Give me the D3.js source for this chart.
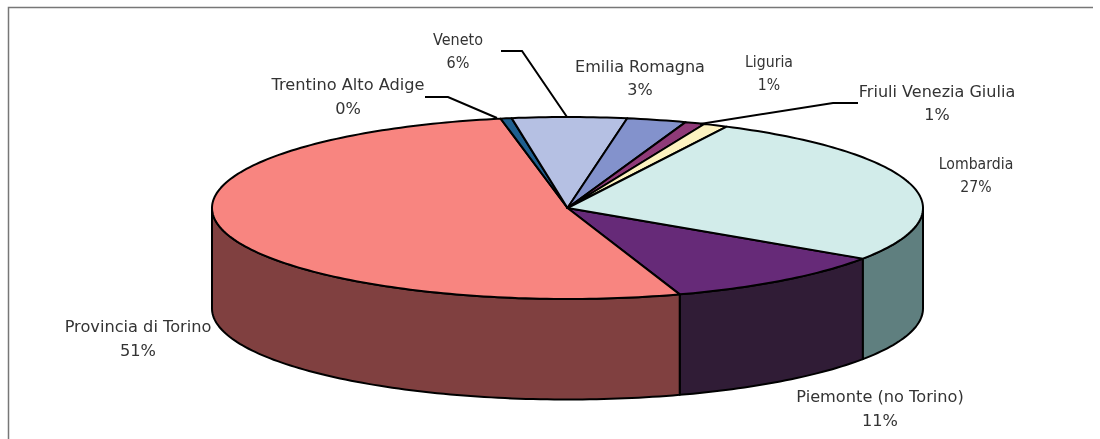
<!DOCTYPE html>
<html>
<head>
<meta charset="utf-8">
<script src="https://cdn.jsdelivr.net/npm/d3@7"></script>
<style>
html, body { margin: 0; padding: 0; background: #fff; overflow: hidden; }
svg { filter: blur(0.35px); }
text { font-family: "DejaVu Sans", Verdana, sans-serif; font-size: 16.2px; fill: #333; }
</style>
</head>
<body>
<script>
// slices, clockwise starting from the Lombardia / Piemonte edge
var categories = ['Piemonte (no Torino)', 'Provincia di Torino', 'Trentino Alto Adige', 'Veneto', 'Emilia Romagna', 'Liguria', 'Friuli Venezia Giulia', 'Lombardia'];
// shares as measured on the drawn slices
var values = [10.5, 52.1, 0.5, 5.2, 2.7, 0.9, 1.1, 27];
var percentLabels = ['11%', '51%', '0%', '6%', '3%', '1%', '1%', '27%'];
var topColors = ['#662a78', '#f88580', '#1f5f8f', '#b5c0e3', '#8392cc', '#8f3a78', '#fdf3c0', '#d2ecea'];
var sideColors = ['#301c36', '#804040', '#0f2f47', '#5a6071', '#414966', '#471d3c', '#7e7960', '#5f7f7f'];

// label centre, first baseline, horizontal squeeze (three labels are narrower in the source)
var labelX = [880, 138, 348, 458, 640, 769, 937, 976];
var labelY = [402, 332, 90, 45, 72, 67, 97, 169];
var labelSqueeze = [1, 1, 1, 0.89, 0.99, 0.87, 0.99, 0.87];

var svg = d3.select('body').append('svg').attr('width', 1100).attr('height', 439);

// frame
svg.append('path').attr('d', 'M8.5,439V7.5H1093')
	.attr('fill', 'none').attr('stroke', '#777').attr('stroke-width', 1.5);

// ellipse scales, -1..1 on both axes
var xScale = d3.scaleLinear().domain([-1, 1]).range([212, 923]);
var yScale = d3.scaleLinear().domain([-1, 1]).range([117, 299]);
var depth = 100.5;

// 0 = east, angles go clockwise on screen
var startDeg = 33.8;
var pie = d3.pie().sort(null).value(function(d){return d;})
	.startAngle(startDeg * Math.PI / 180)
	.endAngle((startDeg + 360) * Math.PI / 180);
var arcs = pie(values);

function rimPoints(a0, a1){
	var n = Math.max(2, Math.ceil((a1 - a0) / 0.02));
	return d3.range(n + 1).map(function(i){return a0 + (a1 - a0) * i / n;});
}
function px(a){return xScale(Math.cos(a));}
function py(a){return yScale(Math.sin(a));}

// side wall, only the front half of the rim shows
var wall = d3.area().x(px).y0(py).y1(function(a){return py(a) + depth;});
arcs.forEach(function(d, i){
	var a0 = Math.max(d.startAngle, 0), a1 = Math.min(d.endAngle, Math.PI);
	var wrapped = d.endAngle > 2 * Math.PI;
	if(wrapped){ a0 = 0; a1 = d.endAngle - 2 * Math.PI; }
	if(a1 <= a0) return;
	svg.append('path').attr('d', wall(rimPoints(a0, a1)) + 'Z')
		.attr('fill', sideColors[i]).attr('stroke', '#000').attr('stroke-width', 2)
		.attr('stroke-linejoin', 'round');
});

// top face
var rim = d3.line().x(px).y(py);
arcs.forEach(function(d, i){
	var centre = 'L' + xScale(0) + ',' + yScale(0) + 'Z';
	svg.append('path').attr('d', rim(rimPoints(d.startAngle, d.endAngle)) + centre)
		.attr('fill', topColors[i]).attr('stroke', '#000').attr('stroke-width', 2)
		.attr('stroke-linejoin', 'round');
});

// leader lines
var leaders = [
	[[425, 97], [448, 97], [497, 118]],
	[[501, 51], [522, 51], [567, 117]],
	[[858, 103], [833, 103], [700, 124]]
];
leaders.forEach(function(l){
	svg.append('path').attr('d', d3.line()(l))
		.attr('fill', 'none').attr('stroke', '#000').attr('stroke-width', 2);
});

// labels
categories.forEach(function(c, i){
	var t = svg.append('text').attr('text-anchor', 'middle')
		.attr('transform', 'translate(' + labelX[i] + ',' + labelY[i] + ') scale(' + labelSqueeze[i] + ',1)');
	t.append('tspan').attr('x', 0).attr('y', 0).text(c);
	t.append('tspan').attr('x', 0).attr('y', 23.5).text(percentLabels[i]);
});
</script>
</body>
</html>
